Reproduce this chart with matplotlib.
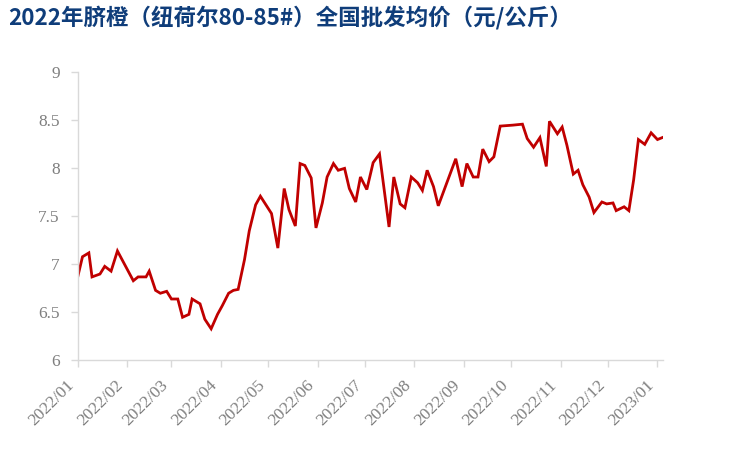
import matplotlib
matplotlib.use("Agg")
import matplotlib.pyplot as plt
import matplotlib.dates as mdates
import pandas as pd

# weekly-ish wholesale price samples
dates = [
    "2022-01-01", "2022-01-04", "2022-01-08", "2022-01-10", "2022-01-15", "2022-01-18",
    "2022-01-22", "2022-01-26", "2022-02-05", "2022-02-08", "2022-02-13", "2022-02-15",
    "2022-02-19", "2022-02-22", "2022-02-26", "2022-03-01", "2022-03-05", "2022-03-08",
    "2022-03-12", "2022-03-14", "2022-03-19", "2022-03-22", "2022-03-26", "2022-03-30",
    "2022-04-02", "2022-04-06", "2022-04-09", "2022-04-12", "2022-04-16", "2022-04-19",
    "2022-04-23", "2022-04-26", "2022-05-03", "2022-05-07", "2022-05-11", "2022-05-14",
    "2022-05-18", "2022-05-21", "2022-05-24", "2022-05-28", "2022-05-31", "2022-06-04",
    "2022-06-07", "2022-06-11", "2022-06-14", "2022-06-18", "2022-06-21", "2022-06-25",
    "2022-06-28", "2022-07-02", "2022-07-06", "2022-07-10", "2022-07-16", "2022-07-19",
    "2022-07-23", "2022-07-26", "2022-07-30", "2022-08-03", "2022-08-06", "2022-08-09",
    "2022-08-13", "2022-08-16", "2022-08-27", "2022-08-31", "2022-09-03", "2022-09-07",
    "2022-09-10", "2022-09-13", "2022-09-17", "2022-09-20", "2022-09-24", "2022-10-02",
    "2022-10-08", "2022-10-11", "2022-10-15", "2022-10-19", "2022-10-23", "2022-10-25",
    "2022-10-30", "2022-11-02", "2022-11-05", "2022-11-09", "2022-11-12", "2022-11-15",
    "2022-11-19", "2022-11-22", "2022-11-27", "2022-11-30", "2022-12-04", "2022-12-06",
    "2022-12-11", "2022-12-14", "2022-12-17", "2022-12-20", "2022-12-24", "2022-12-28",
    "2023-01-01", "2023-01-04",
]
prices = [
    6.87, 7.08, 7.12, 6.87, 6.90, 6.98,
    6.93, 7.14, 6.83, 6.87, 6.87, 6.93,
    6.73, 6.70, 6.72, 6.64, 6.64, 6.45,
    6.48, 6.64, 6.59, 6.43, 6.33, 6.48,
    6.57, 6.70, 6.73, 6.74, 7.05, 7.35,
    7.62, 7.71, 7.53, 7.17, 7.79, 7.57,
    7.40, 8.05, 8.03, 7.90, 7.38, 7.64,
    7.91, 8.05, 7.98, 8.00, 7.79, 7.65,
    7.91, 7.78, 8.06, 8.15, 7.39, 7.91,
    7.63, 7.59, 7.91, 7.85, 7.77, 7.98,
    7.81, 7.61, 8.10, 7.81, 8.05, 7.91,
    7.91, 8.20, 8.07, 8.12, 8.44, 8.45,
    8.46, 8.31, 8.22, 8.32, 8.02, 8.49,
    8.36, 8.43, 8.24, 7.94, 7.98, 7.83,
    7.70, 7.54, 7.65, 7.63, 7.64, 7.56,
    7.60, 7.56, 7.88, 8.30, 8.25, 8.37,
    8.30, 8.32,
]
title = "2022年脐橙（纽荷尔80-85#）全国批发均价（元/公斤）"

df = pd.DataFrame({"date": pd.to_datetime(dates), "price": prices})

fig = plt.figure(figsize=(7.51, 4.51), dpi=100)
ax = fig.add_axes([0.1035, 0.2007, 0.779, 0.639])

ax.plot(df["date"], df["price"], color="#c00000", lw=2.0, solid_joinstyle="miter")

ax.set_ylim(6, 9)
ax.set_yticks([6, 6.5, 7, 7.5, 8, 8.5, 9])
ax.set_yticklabels(["6", "6.5", "7", "7.5", "8", "8.5", "9"])
ax.set_xlim(pd.Timestamp("2022-01-01"), pd.Timestamp("2023-01-04 08:00"))
ax.xaxis.set_major_locator(mdates.MonthLocator())
ax.xaxis.set_major_formatter(mdates.DateFormatter("%Y/%m"))

for s in ["top", "right"]:
    ax.spines[s].set_visible(False)
for s in ["left", "bottom"]:
    ax.spines[s].set_color("#d9d9d9")
    ax.spines[s].set_linewidth(1.0)

ax.tick_params(axis="both", colors="#d9d9d9", length=5, width=1.0,
               labelcolor="#7f7f7f", labelsize=12.5)
ax.tick_params(axis="y", pad=8)
ax.tick_params(axis="x", pad=7)
for lab in ax.get_xticklabels() + ax.get_yticklabels():
    lab.set_fontfamily("Liberation Serif")
plt.setp(ax.get_xticklabels(), rotation=45, ha="right")

fig.text(0.011, 0.96, title, fontsize=16.2, fontweight="bold", color="#0f3d7a",
         family=["Noto Sans CJK SC", "DejaVu Sans"], ha="left", va="center")

plt.savefig("out.png", dpi=100)
plt.close()
